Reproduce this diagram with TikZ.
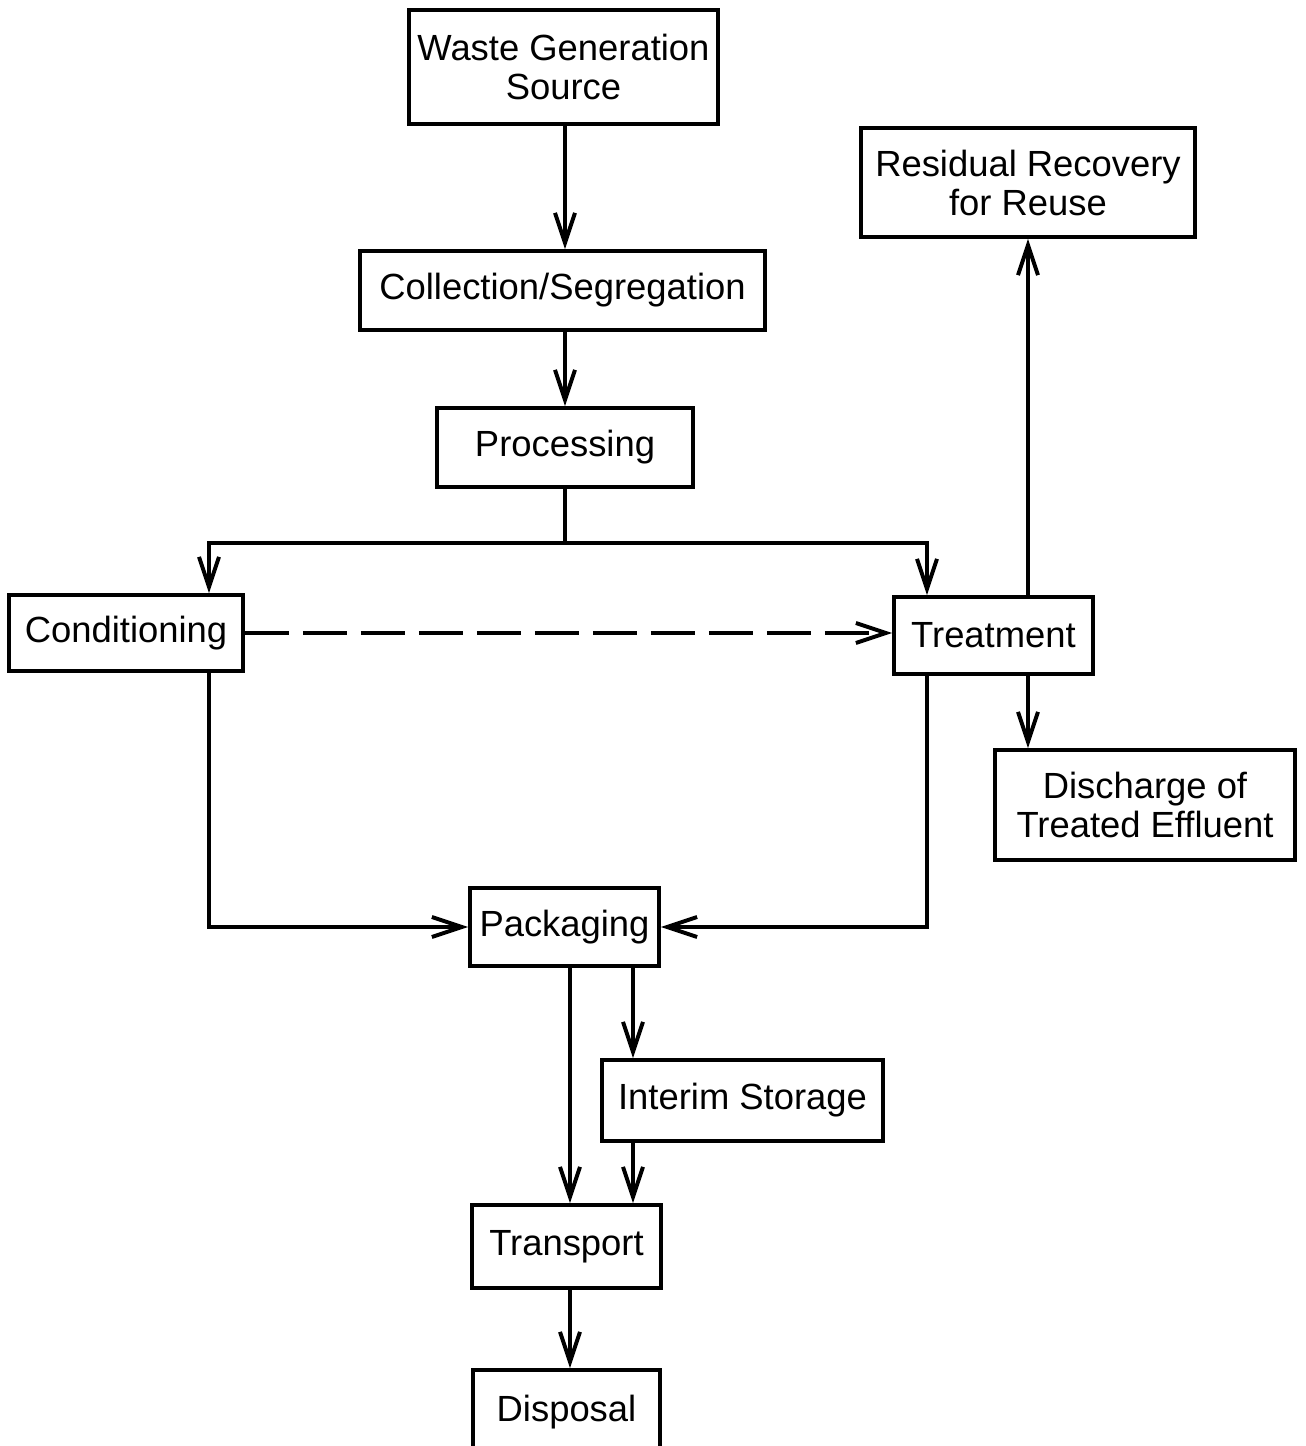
\documentclass[tikz,border=0pt]{standalone}
\usepackage{fontspec}
\setmainfont{Liberation Sans}
\usetikzlibrary{arrows.meta,calc}
\begin{document}
\begin{tikzpicture}[x=0.5pt,y=-0.5pt,
  box/.style 2 args={draw, line width=1.8pt, inner sep=0pt, align=center,
    font=\fontsize{18.2}{19.5}\selectfont, minimum width=#1*0.5pt, minimum height=#2*0.5pt},
  link/.style={line width=2.2pt},
  arr/.style={line width=2.2pt, -{Straight Barb[length=15pt,width=10pt,line width=2pt]}},
  dasharr/.style={arr, dash pattern=on 22pt off 7pt}]
\useasboundingbox (0,0) rectangle (1306,1446);
\clip (0,0) rectangle (1306,1446);
\node[box={309}{114}] (waste) at (563.5,67) {Waste Generation\\Source};
\node[box={405}{79}] (coll) at (562.5,290.5) {Collection/Segregation};
\node[box={256}{79}] (proc) at (565,447.5) {Processing};
\node[box={234}{76}] (cond) at (126,633) {Conditioning};
\node[box={199}{77}] (treat) at (993.5,635.5) {Treatment};
\node[box={334}{109}] (resid) at (1028,182.5) {Residual Recovery\\for Reuse};
\node[box={300}{110}] (disch) at (1145,805) {Discharge of\\Treated Effluent};
\node[box={189}{78}] (pack) at (564.5,927) {Packaging};
\node[box={281}{81}] (interim) at (742.5,1100.5) {Interim Storage};
\node[box={189}{83}] (transp) at (566.5,1246.5) {Transport};
\node[box={187}{84}] (disp) at (566.5,1412) {Disposal};
% top chain
\draw[arr] (proc.north |- waste.south) -- (proc.north |- coll.north);
\draw[arr] (proc.north |- coll.south) -- (proc.north);
% split
\coordinate (split) at ($(proc.south)+(0,54)$);
\coordinate (cdtop) at ($(cond.north)+(83,0)$);
\coordinate (trtop) at ($(treat.north)+(-66.5,0)$);
\draw[link] (proc.south) -- (split);
\draw[arr] (split) -| (cdtop);
\draw[arr] (split) -| (trtop);
% dashed
\draw[dasharr] (cond.east) -- (cond.east -| treat.west);
% to packaging
\draw[arr] ($(cond.south)+(83,0)$) |- (pack.west);
\draw[arr] ($(treat.south)+(-66.5,0)$) |- (pack.east);
% treatment branches
\draw[arr] (resid.south |- treat.north) -- (resid.south);
\draw[arr] (resid.south |- treat.south) -- (resid.south |- disch.north);
% packaging down
\coordinate (pk1) at ($(pack.south)+(5.5,0)$);
\coordinate (pk2) at ($(pack.south)+(68.5,0)$);
\draw[arr] (pk1) -- (pk1 |- transp.north);
\draw[arr] (pk2) -- (pk2 |- interim.north);
\draw[arr] (pk2 |- interim.south) -- (pk2 |- transp.north);
\draw[arr] (pk1 |- transp.south) -- (pk1 |- disp.north);
\end{tikzpicture}
\end{document}
